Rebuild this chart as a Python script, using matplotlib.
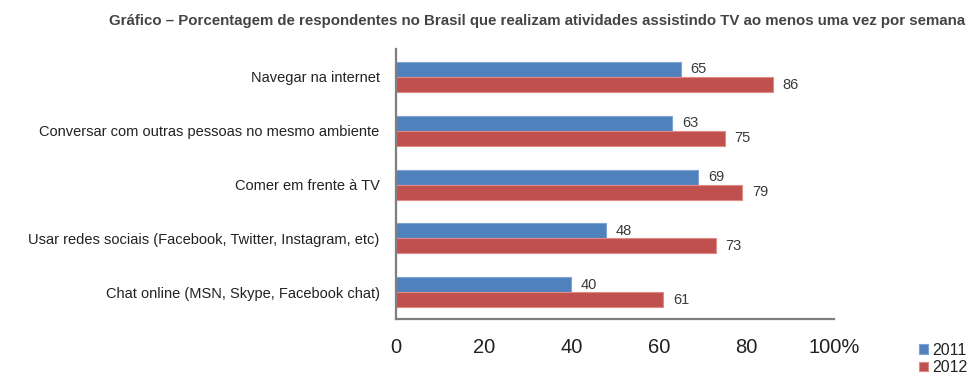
import matplotlib.pyplot as plt
import numpy as np

# dados do gráfico
categorias = [
    "Navegar na internet",
    "Conversar com outras pessoas no mesmo ambiente",
    "Comer em frente à TV",
    "Usar redes sociais (Facebook, Twitter, Instagram, etc)",
    "Chat online (MSN, Skype, Facebook chat)",
]
valores_2011 = [65, 63, 69, 48, 40]
valores_2012 = [86, 75, 79, 73, 61]
anos = ["2011", "2012"]
ticks_x = [0, 20, 40, 60, 80, 100]
rotulos_x = ["0", "20", "40", "60", "80", "100%"]

titulo = "Gráfico – Porcentagem de respondentes no Brasil que realizam atividades assistindo TV ao menos uma vez por semana"

plt.rcParams['font.family'] = ['Liberation Sans', 'DejaVu Sans']

cor_azul = "#4F81BD"
cor_verm = "#C0504D"
cor_texto = "#3a3a3a"

fig = plt.figure(figsize=(9.71, 3.83), dpi=100)
ax = fig.add_axes([0.408, 0.167, 0.451, 0.705])

y = np.arange(len(categorias))
h = 0.28
b1 = ax.barh(y - h / 2, valores_2011, height=h, color=cor_azul,
             edgecolor="#7fa3d3", linewidth=0.8, label=anos[0])
b2 = ax.barh(y + h / 2, valores_2012, height=h, color=cor_verm,
             edgecolor="#e08a88", linewidth=0.8, label=anos[1])

# rótulos dos valores
for barras in (b1, b2):
    ax.bar_label(barras, padding=7, fontsize=10.5, color=cor_texto)

ax.set_xlim(0, 100)
ax.set_ylim(len(categorias) - 0.5, -0.52)

ax.set_yticks(y)
ax.set_yticklabels(categorias, fontsize=10.5, color="#222222")
ax.set_xticks(ticks_x)
ax.set_xticklabels(rotulos_x, fontsize=14.5, color="#222222")
ax.tick_params(axis="both", length=0)
ax.tick_params(axis="y", pad=12)
ax.tick_params(axis="x", pad=14)

for lado in ("top", "right"):
    ax.spines[lado].set_visible(False)
for lado in ("left", "bottom"):
    ax.spines[lado].set_color("#7f7f7f")
    ax.spines[lado].set_linewidth(1.6)

# legenda no canto inferior direito
leg = fig.legend(handles=[b1, b2], loc="lower right", bbox_to_anchor=(1.006, -0.005),
                 frameon=False, fontsize=11.5, handlelength=0.55, handleheight=0.55,
                 handletextpad=0.25, labelspacing=0.15, borderaxespad=0.2)
for t in leg.get_texts():
    t.set_color("#222222")

fig.text(0.994, 0.945, titulo, ha="right", va="center", fontsize=10.8,
         color="#444444", fontweight="bold",
         family=["Liberation Sans Narrow", "Liberation Sans", "DejaVu Sans"])

fig.savefig("out.png", dpi=100)
